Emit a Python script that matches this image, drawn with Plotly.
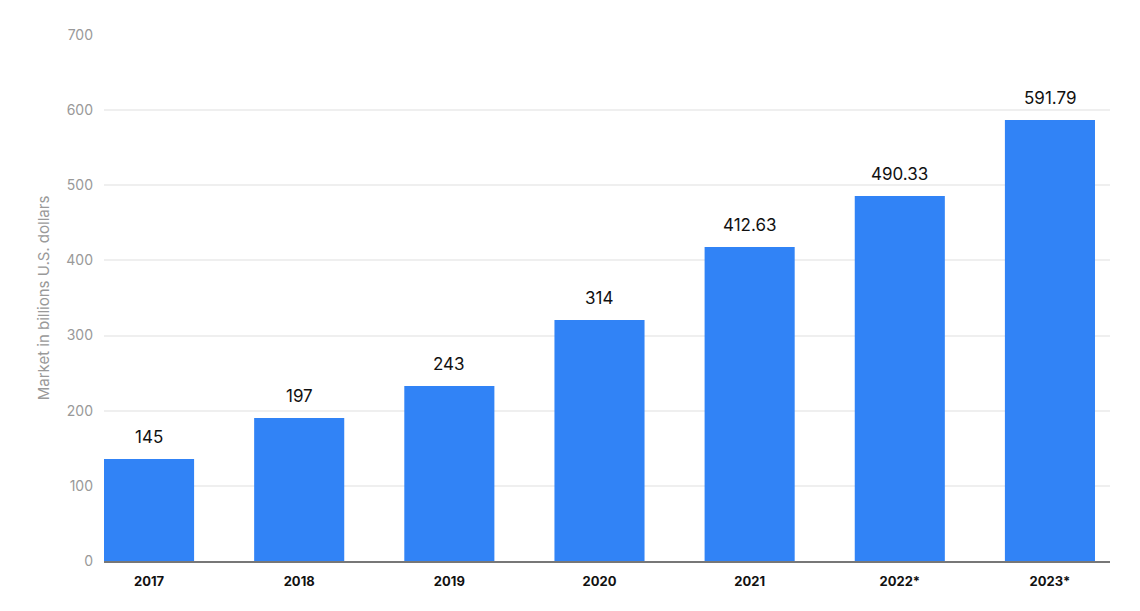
import plotly.graph_objects as go

years = ["2017", "2018", "2019", "2020", "2021", "2022*", "2023*"]
bar_heights = [135.7, 190.3, 232.9, 320.7, 417.9, 485.8, 586.9]
value_labels = ["145", "197", "243", "314", "412.63", "490.33", "591.79"]
y_ticks = [0, 100, 200, 300, 400, 500, 600, 700]

FONT = "Inter, Roboto, sans-serif"

fig = go.Figure()
fig.add_trace(go.Bar(
    x=years, y=bar_heights, width=0.6,
    marker=dict(color="#3183f6", line=dict(width=0)),
    hoverinfo="skip",
))

for i, (h, t) in enumerate(zip(bar_heights, value_labels)):
    fig.add_annotation(x=i, y=h, text=t, showarrow=False, yanchor="bottom",
                       yshift=10, font=dict(family=FONT, size=17, color="#111"))

fig.update_layout(
    width=1124, height=595,
    margin=dict(l=96, r=22, t=27, b=42),
    plot_bgcolor="white", paper_bgcolor="white",
    showlegend=False,
    xaxis=dict(
        type="category", range=[-0.3, 6.4],
        showgrid=False, showline=True, linecolor="#777", linewidth=2,
        ticks="", ticklabelstandoff=7,
        tickfont=dict(family=FONT, size=13, color="#111", weight="bold"),
    ),
    yaxis=dict(
        range=[0, 700], tickvals=y_ticks,
        showgrid=True, gridcolor="#efefef", gridwidth=1.5,
        zeroline=False, showline=False, ticks="",
        ticklabelstandoff=10,
        tickfont=dict(family=FONT, size=14, color="#999"),
        title=dict(text="Market in billions U.S. dollars", standoff=13,
                   font=dict(family=FONT, size=15, color="#999")),
    ),
)

fig.write_html("out.html")
